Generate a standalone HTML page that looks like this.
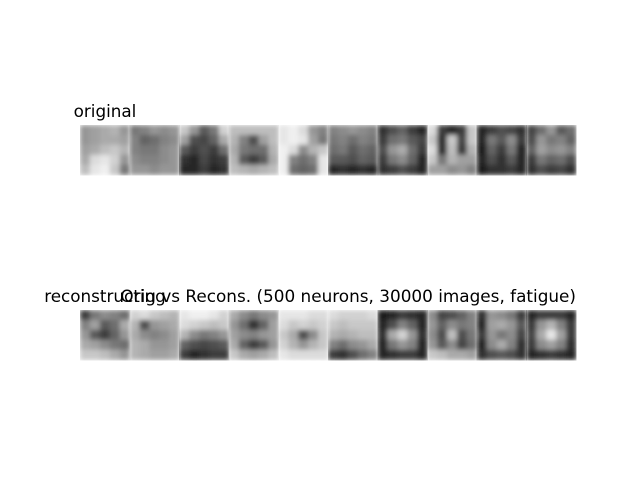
<!DOCTYPE html>
<html><head><meta charset="utf-8"><style>body{margin:0;background:#fff}svg{display:block}</style></head>
<body>
<svg id="fig" width="640" height="480" xmlns="http://www.w3.org/2000/svg">
<defs>
<filter id="blur" x="0" y="0" width="1" height="1" filterUnits="objectBoundingBox"><feGaussianBlur stdDeviation="2.5" edgeMode="duplicate"/></filter>
</defs>
<rect width="640" height="480" fill="#fff"/>
<text x="105" y="117" text-anchor="middle" font-family="DejaVu Sans, sans-serif" font-size="16.8">original</text>
<text x="105" y="302" text-anchor="middle" font-family="DejaVu Sans, sans-serif" font-size="16.8">reconstructing</text>
<text x="576" y="302" text-anchor="end" font-family="DejaVu Sans, sans-serif" font-size="16.85">Orig vs Recons. (500 neurons, 30000 images, fatigue)</text>
<g id="rows"></g>
</svg>
<script>
const originals = [
[[150,160,170,180,150],[150,160,170,170,160],[160,170,190,200,180],[170,220,230,210,150],[190,230,240,200,120]],
[[120,130,150,140,150],[130,100,110,130,140],[130,120,120,140,150],[140,130,130,140,150],[150,150,140,150,150]],
[[200,150,90,120,210],[160,80,70,100,170],[90,60,80,60,110],[50,40,70,50,60],[40,40,60,40,50]],
[[190,190,190,190,190],[180,130,80,160,190],[170,120,110,110,180],[180,90,60,90,170],[190,180,170,180,190]],
[[230,240,220,150,130],[230,240,230,160,120],[240,220,140,180,200],[240,130,110,130,230],[240,110,100,110,230]],
[[130,140,150,140,130],[120,130,110,130,120],[110,120,90,110,100],[90,90,80,100,90],[40,50,40,50,40]],
[[50,80,100,60,40],[60,110,120,90,70],[80,150,170,110,60],[60,120,140,100,40],[50,60,80,60,40]],
[[220,60,40,60,200],[200,50,200,70,200],[220,50,190,60,180],[200,120,180,160,160],[160,160,140,150,130]],
[[40,60,80,70,50],[40,120,90,140,60],[30,100,60,120,40],[40,80,50,90,40],[30,50,50,60,40]],
[[70,110,150,90,110],[80,150,120,130,100],[100,160,140,150,130],[60,120,100,110,80],[50,80,60,70,50]]
];
const reconstructions = [
[[60,120,140,130,110],[130,160,90,110,170],[150,90,60,100,150],[170,160,140,120,110],[200,200,190,170,150]],
[[210,220,200,190,180],[180,80,150,160,170],[170,140,130,140,160],[180,170,150,150,160],[180,170,160,160,170]],
[[230,240,240,230,210],[220,210,200,190,200],[180,140,120,130,150],[100,80,70,80,90],[60,40,50,60,60]],
[[170,140,120,140,150],[150,110,50,100,160],[160,140,130,150,160],[170,100,60,90,150],[200,170,160,170,190]],
[[230,230,230,220,220],[220,200,210,200,210],[200,170,80,140,200],[210,180,150,180,200],[230,220,220,220,220]],
[[220,210,210,210,220],[200,190,200,200,200],[180,170,180,190,190],[130,110,140,150,170],[60,50,80,110,130]],
[[30,40,60,50,40],[40,80,130,100,40],[50,170,210,150,50],[40,120,150,130,40],[40,50,60,60,40]],
[[140,70,80,100,130],[150,100,140,120,130],[140,80,190,80,120],[150,90,140,70,110],[200,190,170,170,160]],
[[50,150,140,120,60],[40,160,170,150,90],[60,150,120,140,70],[40,140,170,130,50],[50,80,90,80,50]],
[[40,60,60,60,40],[60,150,180,130,60],[70,170,230,160,60],[60,140,160,130,50],[40,50,60,50,40]]
];
const NS = "http://www.w3.org/2000/svg";
const X0 = 80, W = 49.6, ROW_Y = [125, 310];
const rows = document.getElementById('rows');
function drawRow(data, y, label) {
  data.forEach((img, i) => {
    const x = X0 + i * W;
    const g = document.createElementNS(NS, 'g');
    
    
    g.setAttribute('filter', 'url(#blur)');
    const n = img.length, cs = W / n;
    img.forEach((row, r) => row.forEach((v, c) => {
      const rc = document.createElementNS(NS, 'rect');
      rc.setAttribute('x', x + c * cs);
      rc.setAttribute('y', y + r * cs);
      rc.setAttribute('width', cs + 0.5);
      rc.setAttribute('height', cs + 0.5);
      rc.setAttribute('fill', `rgb(${v},${v},${v})`);
      g.appendChild(rc);
    }));
    rows.appendChild(g);
  });
}
drawRow(originals, ROW_Y[0], 'original');
drawRow(reconstructions, ROW_Y[1], 'reconstruction');
</script>
</body></html>
